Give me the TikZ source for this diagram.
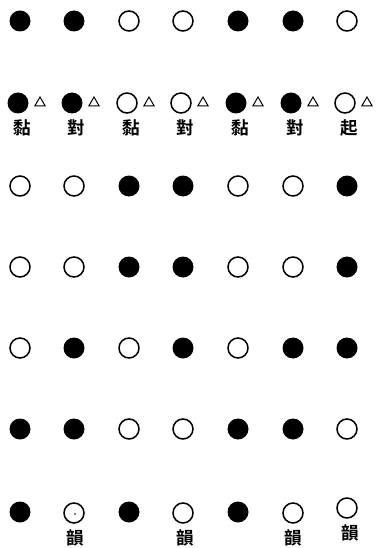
\documentclass[tikz,border=0pt]{standalone}
\usepackage{fontspec}
\newfontfamily\cjk{Noto Sans CJK TC Bold}
\usetikzlibrary{shapes.geometric}
\begin{document}
\begin{tikzpicture}[x=1pt,y=-1pt,
  stb/.style={circle,fill=black,minimum size=21pt,inner sep=0pt},
  stw/.style={circle,draw=black,line width=1.5pt,minimum size=20pt,inner sep=0pt},
  tri/.style={regular polygon,regular polygon sides=3,draw=black,line width=1pt,minimum size=12pt,inner sep=0pt},
  lbl/.style={font=\cjk\fontsize{17.5}{17.5}\selectfont,inner sep=0pt}]
\useasboundingbox (0,0) rectangle (375,548);
% columns
\def\xs{20,74,129,183,238,293,347}
% row 1
\foreach \c [count=\i] in {b,b,w,w,b,b,w}{
  \pgfmathsetmacro\xx{{\xs}[\i-1]}
  \node[st\c] (r1-\i) at (\xx,21) {};
}
% row 2 with triangles and labels
\foreach \c/\t [count=\i] in {b/黏,b/對,w/黏,w/對,b/黏,b/對,w/起}{
  \pgfmathsetmacro\xx{{\xs}[\i-1]-2}
  \node[st\c] (r2-\i) at (\xx,103) {};
  \node[tri] (t2-\i) at ([xshift=22pt]r2-\i.center) {};
  \node[lbl] (l2-\i) at ([xshift=4pt,yshift=-25pt]r2-\i.center) {\t};
}
% rows 3-6
\foreach \r/\y/\pat in {3/186/{w,w,b,b,w,w,b},4/267/{w,w,b,b,w,w,b},5/348/{w,b,w,b,w,b,b},6/429/{b,b,w,w,b,b,w}}{
  \foreach \c [count=\i] in \pat{
    \pgfmathsetmacro\xx{{\xs}[\i-1]}
    \node[st\c] (r\r-\i) at (\xx,\y) {};
  }
}
% row 7
\foreach \c/\yy [count=\i] in {b/512,w/513,b/512,w/513,b/512,w/513,w/508}{
  \pgfmathsetmacro\xx{{\xs}[\i-1]}
  \node[st\c] (r7-\i) at (\xx,\yy) {};
}
\fill (r7-2.center) ++(1,1) circle (0.9pt);
\node[lbl] (l7-2) at ([xshift=1pt,yshift=-25pt]r7-2.center) {韻};
\node[lbl] (l7-4) at ([xshift=2pt,yshift=-25pt]r7-4.center) {韻};
\node[lbl] (l7-6) at ([xshift=0pt,yshift=-25pt]r7-6.center) {韻};
\node[lbl] (l7-7) at ([xshift=3pt,yshift=-25pt]r7-7.center) {韻};
\end{tikzpicture}
\end{document}
